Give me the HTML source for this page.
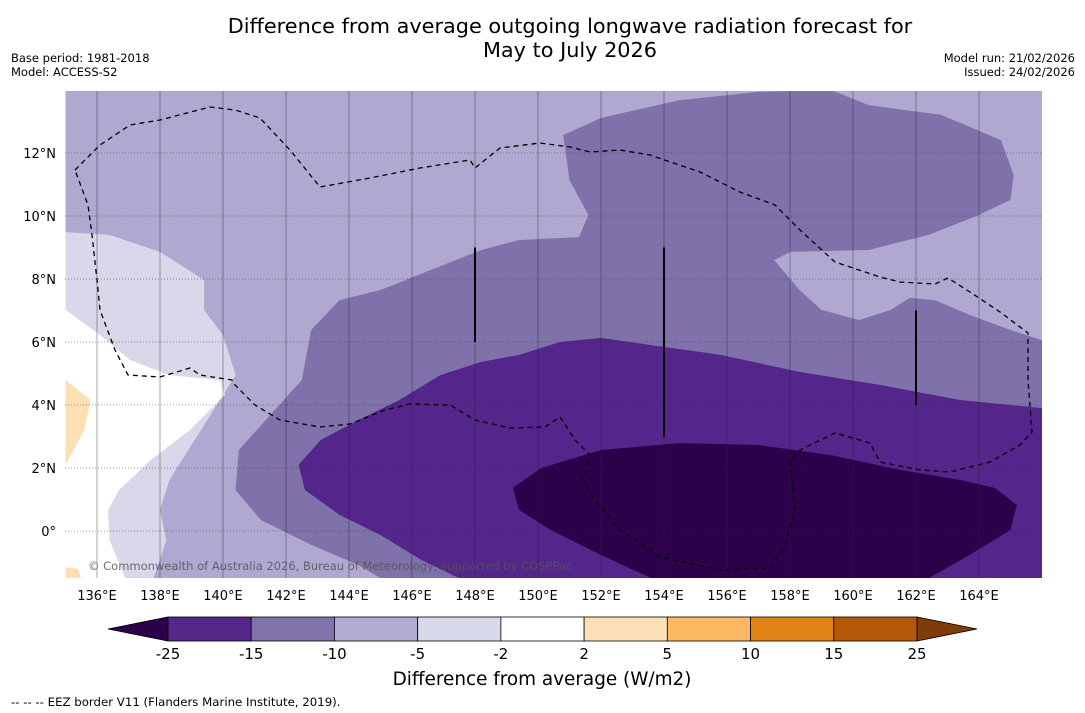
<!DOCTYPE html>
<html><head><meta charset="utf-8">
<style>
body{margin:0;background:#fff;width:1085px;height:713px;overflow:hidden;font-family:"DejaVu Sans","Liberation Sans",sans-serif;}
.t{position:absolute;white-space:nowrap;color:#000}
</style></head><body>
<div class="t" style="left:0;width:1140px;text-align:center;top:14px;font-size:20.8px;line-height:24px">Difference from average outgoing longwave radiation forecast for<br>May to July 2026</div>
<div class="t" style="left:11px;top:51px;font-size:11.5px;line-height:14px">Base period: 1981-2018<br>Model: ACCESS-S2</div>
<div class="t" style="right:10px;top:51px;font-size:11.5px;line-height:14px;text-align:right">Model run: 21/02/2026<br>Issued: 24/02/2026</div>
<svg id="map" width="1085" height="713" style="position:absolute;left:0;top:0" font-family="DejaVu Sans, Liberation Sans, sans-serif"></svg>
<script>
const lonTicks=[136,138,140,142,144,146,148,150,152,154,156,158,160,162,164];
const latTicks=[0,2,4,6,8,10,12];
const levelColors=['#2d004b','#542788','#8073ac','#b2abd2','#d8daeb','#ffffff','#fee0b6','#fdb863','#e08214','#b35806','#7f3b08'];
const levelLabels=['-25','-15','-10','-5','-2','2','5','10','15','25'];
const regionLight=[[135,-1.5],[135,14],[166,14],[166,-1.5]];
const regionPale=[[135,9.49],[136.4,9.4],[138,8.86],[139.4,7.97],[139.4,7.02],[140,6.22],[140.4,4.95],[139.9,4.16],[139.1,2.89],[138.3,1.62],[138,0.67],[138.2,-0.29],[137.8,-1.5],[135,-1.5]];
const regionWhite=[[135,7.02],[136.1,6.22],[137.05,5.43],[138.3,4.95],[139.9,4.79],[140.06,4.32],[138.95,3.21],[137.7,2.25],[136.7,1.3],[136.35,0.67],[136.4,-0.29],[136.9,-1.5],[135,-1.5]];
const regionOrange=[[135,4.79],[135.8,4.16],[135.6,3.21],[135,2.1]];
const regionOrange2=[[135,-1.15],[135.4,-1.2],[135.5,-1.5],[135,-1.5]];
const regionMedium=[[150.8,12.57],[152,13.11],[154.5,13.68],[157,13.94],[159.3,14],[160.5,13.52],[162.8,13.21],[164.7,12.41],[165.1,11.3],[165,10.51],[164,10.03],[162.4,9.4],[160.5,8.92],[158,8.86],[157.5,8.6],[158.3,7.65],[159,7.02],[160.2,6.7],[161.2,7.02],[161.8,7.4],[162.6,7.33],[163.7,6.86],[165,6.38],[166,6.06],[166,-1.5],[145,-1.5],[144.3,-1.08],[142.8,-0.44],[141.2,0.35],[140.4,1.3],[140.5,2.57],[141.5,3.68],[142.5,4.79],[142.8,6.38],[143.7,7.33],[145,7.65],[146.6,8.29],[148.2,8.92],[149.4,9.24],[151.3,9.33],[151.6,10.03],[151,11.14]];
const regionDark=[[166,3.9],[163.4,4.16],[160.9,4.63],[158.3,5.05],[155.8,5.59],[153.6,5.9],[152,6.13],[150.7,6.0],[149.4,5.59],[148.2,5.37],[146.9,4.95],[145.6,4.16],[144.3,3.52],[143.1,2.89],[142.4,2.1],[142.6,1.3],[143.7,0.51],[145,-0.13],[146.3,-0.92],[147.5,-1.5],[166,-1.5]];
const regionDarkest=[[149.2,1.37],[150.1,2.0],[152,2.57],[154.5,2.79],[157,2.73],[159.3,2.41],[161.5,1.94],[163.4,1.62],[164.5,1.37],[165.2,0.83],[165,0.03],[163.7,-0.76],[162.4,-1.5],[153.6,-1.5],[152,-0.76],[150.4,0.03],[149.4,0.67]];
const NS='http://www.w3.org/2000/svg';
const svg=document.getElementById('map');
const X0=65,X1=1042,Y0=91,Y1=578;
function xs(lon){return 97+(lon-136)*31.5;}
function ys(lat){return 531-lat*31.5;}
function mk(tag,attrs,parent){const e=document.createElementNS(NS,tag);for(const k in attrs)e.setAttribute(k,attrs[k]);(parent||svg).appendChild(e);return e;}
const defs=mk('defs',{});
const cp=mk('clipPath',{id:'clip'},defs);mk('rect',{x:X0,y:Y0,width:X1-X0,height:Y1-Y0},cp);
const g=mk('g',{'clip-path':'url(#clip)'});
function poly(pts,fill,name){const p=mk('polygon',{points:pts.map(q=>xs(q[0])+','+ys(q[1])).join(' '),fill:fill},g);

}
poly(regionLight,'#b0a8d0','region-minus10-to-minus5');
poly(regionPale,'#d8d8ea','region-minus5-to-minus2');
poly(regionWhite,'#ffffff','region-minus2-to-2');
poly(regionOrange,'#fddfb4','region-2-to-5');
poly(regionOrange2,'#fddfb4','region-2-to-5-south');
poly(regionMedium,'#7f72ab','region-minus15-to-minus10');
poly(regionDark,'#54258a','region-minus25-to-minus15');
poly(regionDarkest,'#2d004b','region-below-minus25');
lonTicks.forEach(l=>{const ln=mk('line',{x1:xs(l),x2:xs(l),y1:Y0,y2:Y1,stroke:'#222','stroke-opacity':0.4,'stroke-width':1},g);


const t=mk('text',{x:xs(l),y:600,'font-size':13,'text-anchor':'middle',fill:'#000'});t.textContent=l+'°E';

});
latTicks.forEach(l=>{const ln=mk('line',{x1:X0,x2:X1,y1:ys(l),y2:ys(l),stroke:'#333','stroke-opacity':0.5,'stroke-width':1,'stroke-dasharray':'1,2'},g);


const t=mk('text',{x:56,y:ys(l)+5,'font-size':13,'text-anchor':'end',fill:'#000'});t.textContent=l===0?'0°':l+'°N';

});
const eez=mk('path',{d:'M75,170 L100,145 130,125 160,120 210,107 235,110 260,118 290,150 320,187 370,178 420,168 470,160 475,168 500,148 540,143 570,147 590,152 620,150 650,155 700,172 740,192 775,205 800,230 835,262 880,277 900,282 935,284 948,278 970,292 1000,312 1028,333 1028,380 1032,432 1020,445 990,462 950,472 920,470 880,462 870,443 835,433 800,450 790,460 795,510 785,545 770,568 720,570 660,557 620,530 595,500 583,480 590,455 575,440 560,417 545,427 510,428 475,420 450,405 410,404 385,410 350,424 320,427 280,420 255,405 235,385 232,380 200,375 190,368 160,377 128,375 115,350 100,310 97,280 92,235 88,205 Z',fill:'none',stroke:'#000','stroke-width':1.3,'stroke-dasharray':'5,4'},g);


[[148,6,9],[154,3,9],[162,4,7]].forEach(v=>{const l=mk('line',{x1:xs(v[0]),x2:xs(v[0]),y1:ys(v[2]),y2:ys(v[1]),stroke:'#000','stroke-width':2},g);

});
const cr=mk('text',{x:88,y:570,'font-size':11.5,fill:'#555','fill-opacity':0.85});cr.textContent='© Commonwealth of Australia 2026, Bureau of Meteorology, supported by COSPPac';


const cbL=168,cbR=917,cbT=617,cbB=641,segW=(cbR-cbL)/9;
const lt=mk('polygon',{points:`108,629 ${cbL},${cbT} ${cbL},${cbB}`,fill:levelColors[0],stroke:'#000','stroke-width':0.8});


const rt=mk('polygon',{points:`977,629 ${cbR},${cbT} ${cbR},${cbB}`,fill:levelColors[10],stroke:'#000','stroke-width':0.8});


for(let i=0;i<9;i++){const r=mk('rect',{x:cbL+i*segW,y:cbT,width:segW,height:cbB-cbT,fill:levelColors[i+1],stroke:'#000','stroke-width':0.8});

}
levelLabels.forEach((s,i)=>{const t=mk('text',{x:cbL+i*segW,y:659,'font-size':15,'text-anchor':'middle',fill:'#000'});t.textContent=s;

});
const ct=mk('text',{x:542,y:685,'font-size':18.4,'text-anchor':'middle',fill:'#000'});ct.textContent='Difference from average (W/m2)';


const ft=mk('text',{x:11,y:706,'font-size':11.75,fill:'#000'});ft.textContent='--  --  -- EEZ border V11 (Flanders Marine Institute, 2019).';


</script>
</body></html>
